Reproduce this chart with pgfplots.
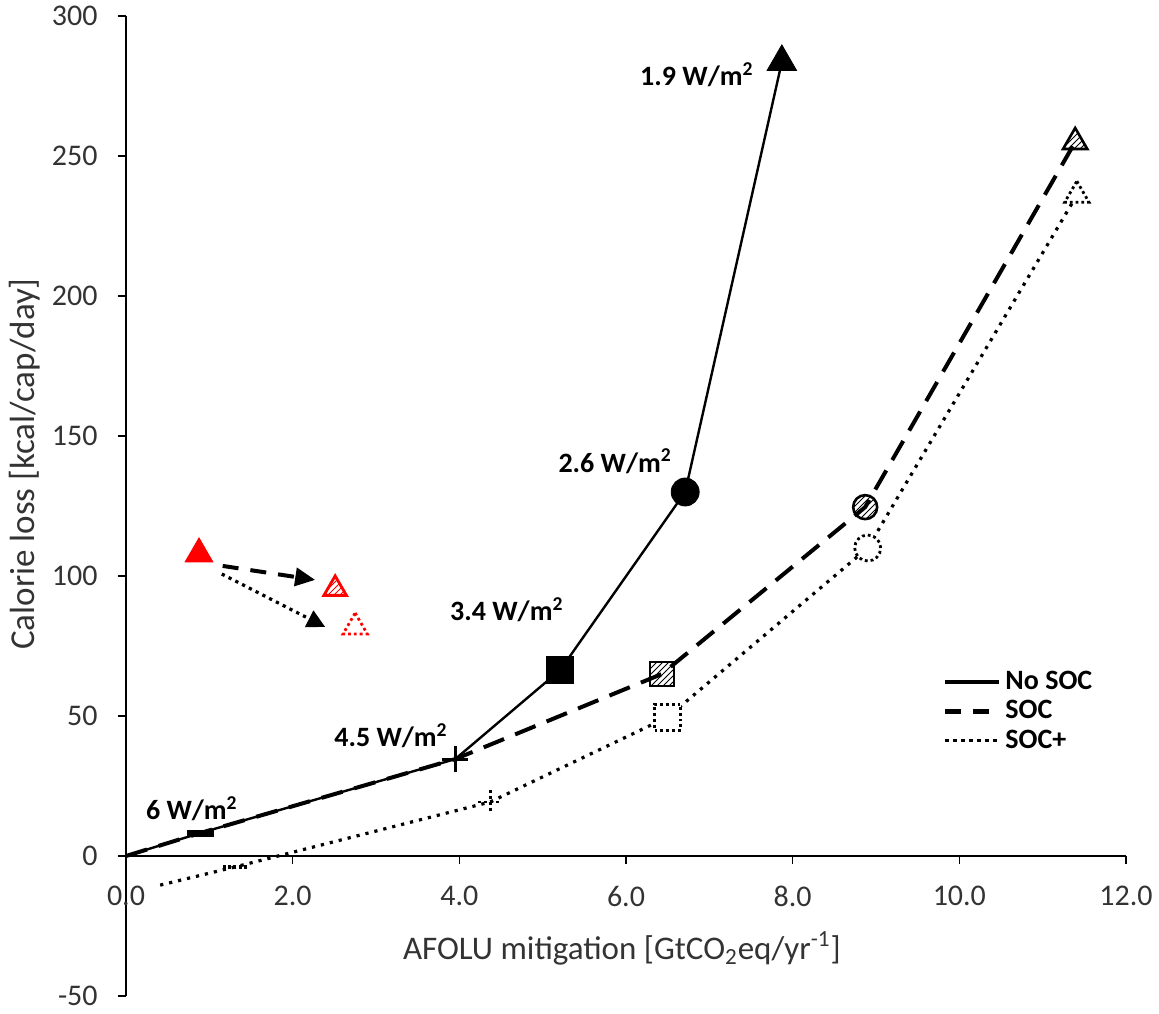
\documentclass[border=0pt]{standalone}
\usepackage{fontspec}
\setmainfont{Carlito}
\usepackage{pgfplots}
\pgfplotsset{compat=1.18}
\usetikzlibrary{patterns,arrows.meta,calc}

\tikzset{
  dotmark/.style={draw=black, fill=white, line width=1.4pt, dash pattern=on 1.4pt off 1.5pt},
  hatchmark/.style={draw=black, line width=1.3pt, solid, pattern=north east lines},
  lbl/.style={font=\bfseries\fontsize{14}{16}\selectfont, inner sep=0pt},
}

\begin{document}
\begin{tikzpicture}
\begin{axis}[
  scale only axis, width=500pt, height=490pt,
  xmin=0, xmax=12, ymin=-50, ymax=300,
  axis x line*=middle, axis y line*=left,
  hide obscured x ticks=false,
  xtick={0,2,...,12}, ytick={-50,0,...,300},
  tick align=outside, major tick length=4pt,
  tick style={black, line width=0.8pt},
  axis line style={black, line width=0.8pt},
  /pgf/number format/assume math mode=true,
  xticklabel style={/pgf/number format/fixed, /pgf/number format/fixed zerofill,
    /pgf/number format/precision=1, yshift=-10pt},
  yticklabel style={xshift=-9pt},
  ticklabel style={font=\fontsize{15}{18}\selectfont, text=black!80, inner sep=1pt},
  every axis x label/.style={at={(axis cs:5.95,-33)}, anchor=center,
    font=\fontsize{16.5}{19}\selectfont, text=black!80},
  every axis y label/.style={at={(axis cs:-1.22,140)}, anchor=center, rotate=90,
    font=\fontsize{17.5}{20}\selectfont, text=black!80},
  xlabel={AFOLU mitigation [GtCO\textsubscript{2}eq/yr\textsuperscript{-1}]},
  ylabel={Calorie loss [kcal/cap/day]},
  legend style={at={(axis cs:9.72,69)}, anchor=north west, draw=none, fill=none,
    font=\bfseries\fontsize{14}{16}\selectfont, row sep=0pt},
  legend cell align=left,
  legend image code/.code={\draw[#1] (0pt,0pt) -- (27pt,0pt);},
  clip=false,
]
\coordinate (ll) at (rel axis cs:0,0);

% lines
\addplot[black, line width=2pt, dash pattern=on 11pt off 6pt, forget plot]
  coordinates {(0,0) (0.89,8.2) (3.95,34.6) (6.43,65) (8.87,124.6) (11.39,255)};
\addplot[black, line width=1.2pt, forget plot]
  coordinates {(0,0) (0.89,8.2) (3.95,34.6) (5.21,66.4) (6.71,130) (7.87,283.6)};
\addplot[black, line width=1.6pt, dash pattern=on 1.6pt off 3pt, forget plot]
  coordinates {(0.41,-10.4) (1.31,-3.9) (4.37,19.3) (6.50,49.6) (8.90,110) (11.41,236)};

% No SOC markers
\addplot[only marks, mark=-, mark size=6.8pt, mark options={line width=3.5pt, solid}, forget plot]
  coordinates {(0.89,8.2)};
\addplot[only marks, mark=+, mark size=6.5pt, mark options={line width=1.4pt, solid}, forget plot]
  coordinates {(3.95,34.6)};
\addplot[only marks, mark=square*, mark size=6.8pt, mark options={solid}, forget plot]
  coordinates {(5.21,66.4)};
\addplot[only marks, mark=*, mark size=7pt, mark options={solid}, forget plot]
  coordinates {(6.71,130)};
\addplot[only marks, mark=triangle*, mark size=8.5pt, mark options={solid}, forget plot]
  coordinates {(7.87,283.6)};

% SOC markers (hatched)
\addplot[only marks, mark=square*, mark size=6pt, mark options={hatchmark}, forget plot]
  coordinates {(6.43,65)};
\addplot[only marks, mark=*, mark size=6pt, mark options={hatchmark}, forget plot]
  coordinates {(8.87,124.6)};
\addplot[only marks, mark=triangle*, mark size=7pt, mark options={hatchmark}, forget plot]
  coordinates {(11.39,255)};

% SOC+ markers (dotted)
\addplot[only marks, mark=-, mark size=6pt, mark options={line width=2pt, dash pattern=on 1.5pt off 1.2pt}, forget plot]
  coordinates {(1.31,-3.9)};
\addplot[only marks, mark=+, mark size=6pt, mark options={line width=1.4pt, dash pattern=on 1.5pt off 1.5pt}, forget plot]
  coordinates {(4.37,19.3)};
\addplot[only marks, mark=square*, mark size=6.5pt, mark options={dotmark}, forget plot]
  coordinates {(6.50,49.6)};
\addplot[only marks, mark=*, mark size=6.5pt, mark options={dotmark}, forget plot]
  coordinates {(8.90,110)};
\addplot[only marks, mark=triangle*, mark size=7pt, mark options={dotmark}, forget plot]
  coordinates {(11.41,236)};

% red key
\addplot[black, line width=2pt, dash pattern=on 8pt off 6pt, -{Triangle[length=10pt,width=9pt]}, forget plot]
  coordinates {(1.16,103.6) (2.27,98.6)};
\addplot[black, line width=1.6pt, dash pattern=on 1.6pt off 2.2pt, -{Triangle[length=9pt,width=9pt]}, forget plot]
  coordinates {(1.15,100.7) (2.39,81.8)};
\addplot[only marks, mark=triangle*, mark size=8pt, red, mark options={solid}, forget plot]
  coordinates {(0.876,107.9)};
\addplot[only marks, mark=triangle*, mark size=6.5pt,
  mark options={draw=red, line width=1.4pt, solid, pattern=north east lines, pattern color=red}, forget plot]
  coordinates {(2.51,95.4)};
\addplot[only marks, mark=triangle*, mark size=7pt,
  mark options={dotmark, draw=red}, forget plot]
  coordinates {(2.75,81.8)};

% labels
\node[lbl] at (axis cs:6.85,279) {1.9 W/m\textsuperscript{2}};
\node[lbl] at (axis cs:5.87,141) {2.6 W/m\textsuperscript{2}};
\node[lbl] at (axis cs:4.57,88) {3.4 W/m\textsuperscript{2}};
\node[lbl] at (axis cs:3.18,43) {4.5 W/m\textsuperscript{2}};
\node[lbl] at (axis cs:0.79,16.8) {6 W/m\textsuperscript{2}};

% legend
\addlegendimage{black, line width=2pt}
\addlegendentry{No SOC}
\addlegendimage{black, line width=2.5pt, dash pattern=on 8pt off 6pt}
\addlegendentry{SOC}
\addlegendimage{black, line width=1.8pt, dash pattern=on 1.8pt off 2.2pt}
\addlegendentry{SOC+}
\end{axis}
\pgfresetboundingbox
\path[use as bounding box] ($(ll)+(-63pt,-8.5pt)$) rectangle ($(ll)+(516.5pt,498pt)$);
\end{tikzpicture}
\end{document}
